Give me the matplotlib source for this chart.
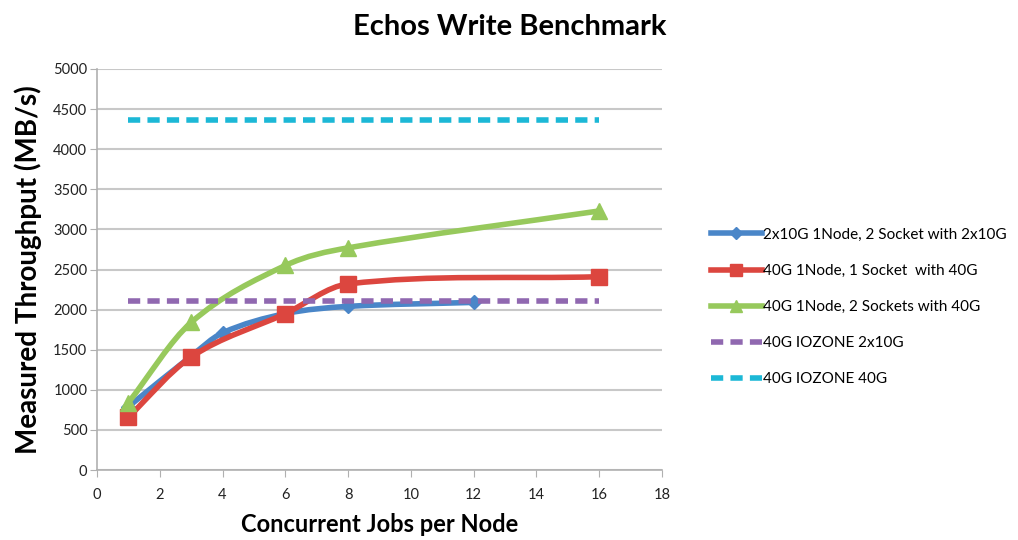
import numpy as np
import matplotlib
matplotlib.use("Agg")
import matplotlib.pyplot as plt
from matplotlib.path import Path
from matplotlib.patches import PathPatch
from matplotlib.lines import Line2D

plt.rcParams['font.family'] = ['Lato', 'DejaVu Sans']

title = "Echos Write Benchmark"
xlabel = "Concurrent Jobs per Node"
ylabel = "Measured Throughput (MB/s)"

blue_x = [1, 3, 4, 6, 8, 12]
blue_y = [790, 1420, 1710, 1950, 2040, 2090]
red_x = [1, 3, 6, 8, 16]
red_y = [660, 1410, 1950, 2320, 2410]
green_x = [1, 3, 6, 8, 16]
green_y = [840, 1840, 2550, 2770, 3230]
iozone_x = [1, 16]
iozone_2x10 = [2110, 2110]
iozone_40 = [4370, 4370]

labels = ["2x10G 1Node, 2 Socket with 2x10G",
          "40G 1Node, 1 Socket  with 40G",
          "40G 1Node, 2 Sockets with 40G",
          "40G IOZONE 2x10G",
          "40G IOZONE 40G"]
colors = ["#4a86c8", "#dc463f", "#97c95c", "#9068b0", "#1cb8d6"]

fig = plt.figure(figsize=(10.18, 5.40), dpi=100)
ax = fig.add_axes([97/1018, 1 - 470/540, (662-97)/1018, (470-69)/540])


def smooth_path(xs, ys):
    # smoothed line drawn as cubic Bezier segments passing through the data points
    xs = np.asarray(xs, float); ys = np.asarray(ys, float)
    n = len(xs)
    m = np.empty(n)
    m[0] = (ys[1] - ys[0]) / (xs[1] - xs[0])
    m[-1] = (ys[-1] - ys[-2]) / (xs[-1] - xs[-2])
    for i in range(1, n - 1):
        m[i] = (ys[i+1] - ys[i-1]) / (xs[i+1] - xs[i-1])
    verts = [(xs[0], ys[0])]
    codes = [Path.MOVETO]
    for i in range(n - 1):
        h = xs[i+1] - xs[i]
        c1 = (xs[i] + h / 3, ys[i] + m[i] * h / 3)
        c2 = (xs[i+1] - h / 3, ys[i+1] - m[i+1] * h / 3)
        verts += [c1, c2, (xs[i+1], ys[i+1])]
        codes += [Path.CURVE4] * 3
    return Path(verts, codes)


series = [(blue_x, blue_y, 'D', 7), (red_x, red_y, 's', 11), (green_x, green_y, '^', 11)]
for k, (xs, ys, m, ms) in enumerate(series):
    patch = PathPatch(smooth_path(xs, ys), facecolor='none', edgecolor=colors[k],
                      lw=4, capstyle='round', joinstyle='round', zorder=3 + k)
    ax.add_patch(patch)
    ax.plot(xs, ys, ls='none', marker=m, ms=ms, color=colors[k], zorder=3 + k)

ax.plot(iozone_x, iozone_2x10, ls=(0, (2.2, 1.3)), lw=4, color=colors[3], zorder=6)
ax.plot(iozone_x, iozone_40, ls=(0, (2.2, 1.3)), lw=4, color=colors[4], zorder=6)

ax.set_xlim(0, 18)
ax.set_ylim(0, 5000)
ax.set_xticks(range(0, 19, 2))
ax.set_yticks(range(0, 5001, 500))
ax.grid(axis='y', color='#c8c8c8', lw=1.5)
ax.set_axisbelow(True)
for s in ['top', 'right']:
    ax.spines[s].set_visible(False)
for s in ['left', 'bottom']:
    ax.spines[s].set_color('#b0b0b0')
    ax.spines[s].set_linewidth(1.2)
ax.tick_params(axis='both', colors='#b0b0b0', labelcolor='#222222', labelsize=10.5, length=5)
ax.tick_params(axis='x', pad=8)
ax.tick_params(axis='y', pad=2)

ax.set_xlabel(xlabel, fontsize=17, fontweight='bold', labelpad=8)
ax.set_ylabel(ylabel, fontsize=20, fontweight='bold', labelpad=8)
fig.text(510/1018, 1 - 27/540, title, ha='center', va='center', fontsize=21, fontweight='bold')

handles = [
    Line2D([], [], color=colors[0], lw=4, marker='D', ms=6),
    Line2D([], [], color=colors[1], lw=4, marker='s', ms=8),
    Line2D([], [], color=colors[2], lw=4, marker='^', ms=8),
    Line2D([], [], color=colors[3], lw=4, ls=(0, (2.2, 1.3))),
    Line2D([], [], color=colors[4], lw=4, ls=(0, (2.2, 1.3))),
]
fig.legend(handles, labels, loc='center left', bbox_to_anchor=(705/1018, 1 - 307/540),
           frameon=False, fontsize=11, handlelength=3.3, handletextpad=0.1,
           labelspacing=1.45, borderaxespad=0)

fig.savefig("out.png", dpi=100)
